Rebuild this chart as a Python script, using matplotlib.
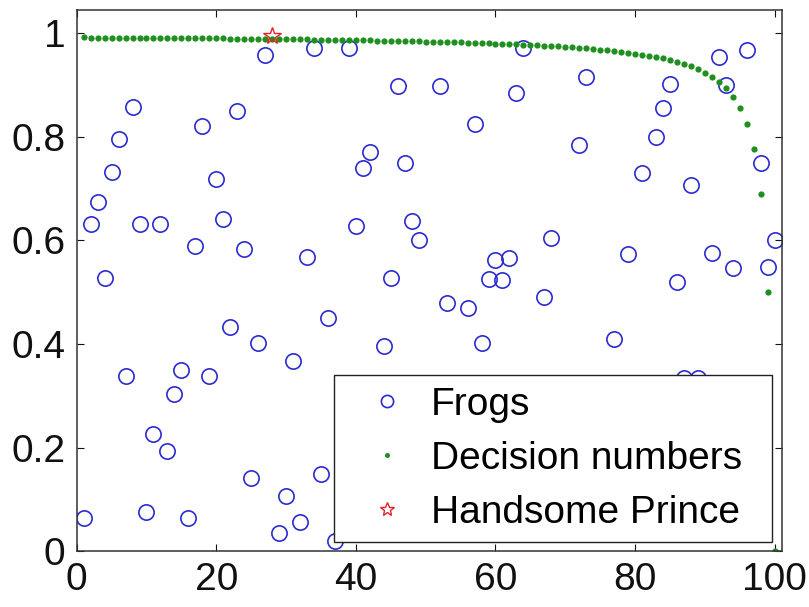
"""Frogs vs decision numbers (best-choice problem) scatter."""
import matplotlib

matplotlib.use("Agg")
import matplotlib.pyplot as plt

plt.rcParams["font.family"] = ["Liberation Sans", "DejaVu Sans"]

# frog values (points hidden under the legend are left out)
frog_x = [1, 2, 3, 4, 5, 6, 7, 8, 9, 10,
          11, 12, 13, 14, 15, 16, 17, 18, 19, 20,
          21, 22, 23, 24, 25, 26, 27, 29, 30,
          31, 32, 33, 34, 35, 36, 37, 39, 40,
          41, 42, 44, 45, 46, 47, 48, 49,
          52, 53, 56, 57, 58, 59, 60,
          61, 62, 63, 64, 67, 68,
          72, 73, 77, 79,
          81, 83, 84, 85, 86, 87, 88, 89,
          91, 92, 93, 94, 96, 98, 99, 100]
frog_y = [0.065, 0.631, 0.674, 0.528, 0.733, 0.796, 0.338, 0.858, 0.631, 0.075,
          0.226, 0.631, 0.193, 0.304, 0.349, 0.065, 0.589, 0.821, 0.338, 0.718,
          0.642, 0.433, 0.850, 0.583, 0.141, 0.402, 0.959, 0.035, 0.106,
          0.367, 0.057, 0.568, 0.971, 0.149, 0.451, 0.019, 0.971, 0.627,
          0.739, 0.770, 0.396, 0.528, 0.899, 0.750, 0.638, 0.600,
          0.899, 0.480, 0.469, 0.825, 0.402, 0.526, 0.563,
          0.523, 0.567, 0.884, 0.971, 0.491, 0.604,
          0.785, 0.916, 0.410, 0.574,
          0.731, 0.799, 0.855, 0.902, 0.520, 0.335, 0.707, 0.335,
          0.575, 0.954, 0.900, 0.546, 0.968, 0.750, 0.549, 0.601]

# decision numbers, one per frog position 1..100
dec_x = list(range(1, 101))
dec_y = [0.9919, 0.9918, 0.9918, 0.9917, 0.9916, 0.9915, 0.9914, 0.9913, 0.9912, 0.9911,
         0.9910, 0.9909, 0.9908, 0.9907, 0.9906, 0.9905, 0.9904, 0.9903, 0.9901, 0.9900,
         0.9899, 0.9898, 0.9896, 0.9895, 0.9894, 0.9892, 0.9891, 0.9889, 0.9888, 0.9886,
         0.9884, 0.9883, 0.9881, 0.9879, 0.9877, 0.9875, 0.9874, 0.9871, 0.9869, 0.9867,
         0.9865, 0.9863, 0.9860, 0.9858, 0.9855, 0.9853, 0.9850, 0.9847, 0.9844, 0.9841,
         0.9838, 0.9834, 0.9831, 0.9827, 0.9824, 0.9820, 0.9815, 0.9811, 0.9807, 0.9802,
         0.9797, 0.9792, 0.9786, 0.9780, 0.9774, 0.9767, 0.9761, 0.9753, 0.9745, 0.9737,
         0.9728, 0.9719, 0.9708, 0.9698, 0.9686, 0.9673, 0.9659, 0.9644, 0.9627, 0.9609,
         0.9589, 0.9567, 0.9543, 0.9515, 0.9484, 0.9449, 0.9408, 0.9361, 0.9306, 0.9240,
         0.9160, 0.9063, 0.8939, 0.8778, 0.8559, 0.8246, 0.7758, 0.6899, 0.5000, 0.0]

prince_x = [28]
prince_y = [0.995]

x_ticks = [0, 20, 40, 60, 80, 100]
y_ticks = [0, 0.2, 0.4, 0.6, 0.8, 1]


def main():
    fig = plt.figure(figsize=(8.09, 6.07), dpi=100, facecolor="white")
    ax = fig.add_axes([0.0948, 0.0918, 0.8714, 0.8918])

    ax.plot(frog_x, frog_y, "o", ms=11, mfc="none", mec="#2b2bd0", mew=1.2, label="Frogs")
    ax.plot(dec_x, dec_y, "o", ms=4.5, mfc="#1f8f1f", mec="none", label="Decision numbers")
    ax.plot(prince_x, prince_y, "*", ms=13, mfc="none", mec="#e8202a", mew=1.0,
            label="Handsome Prince")

    ax.set_xlim(0, 101)
    ax.set_ylim(0, 1.045)
    ax.set_xticks(x_ticks)
    ax.set_yticks(y_ticks)
    ax.set_yticklabels(["0", "0.2", "0.4", "0.6", "0.8", "1"])
    ax.tick_params(direction="in", length=5, width=0.8, top=True, right=True,
                   labelsize=28, pad=8, colors="#111111")
    for sp in ax.spines.values():
        sp.set_linewidth(1.1)
        sp.set_color("#333333")

    leg = ax.legend(loc="lower left", bbox_to_anchor=(0.365, 0.0163, 0.621, 0.3),
                    mode="expand", borderaxespad=0, fontsize=28, markerscale=0.8,
                    handlelength=2.12, handletextpad=0.07, borderpad=0.30,
                    labelspacing=0.46, fancybox=False, framealpha=1,
                    edgecolor="#222222")
    leg.get_frame().set_linewidth(1.0)

    fig.savefig("out.png", dpi=100, facecolor="white")
    plt.close(fig)


if __name__ == "__main__":
    main()
